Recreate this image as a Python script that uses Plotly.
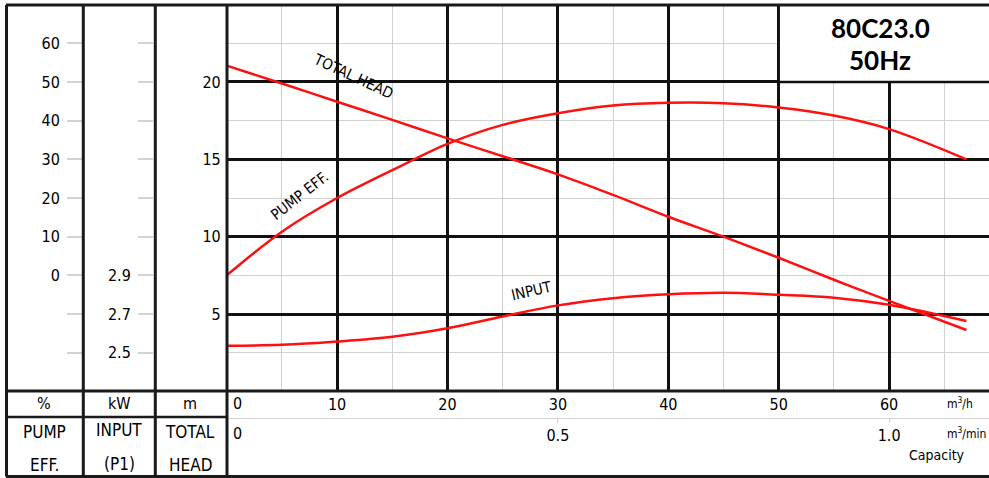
import plotly.graph_objects as go

# pump curve 80C23.0 @ 50Hz
flow_m3h = [0, 5, 10, 15, 20, 25, 30, 35, 40, 45, 50, 55, 60, 67]
total_head_m = [21.05, 19.9, 18.72, 17.55, 16.35, 15.2, 14.03, 12.7, 11.29, 10.0, 8.64, 7.22, 5.85, 3.97]
pump_eff_pct = [0, 11.3, 20.0, 27.2, 34.0, 38.9, 41.9, 43.9, 44.6, 44.5, 43.4, 41.3, 37.8, 30.0]
input_kw = [2.537, 2.541, 2.558, 2.583, 2.627, 2.688, 2.745, 2.782, 2.802, 2.81, 2.80, 2.785, 2.748, 2.664]

head_ticks = [5, 10, 15, 20]
eff_ticks = [-20, -10, 0, 10, 20, 30, 40, 50, 60]
kw_ticks = [2.5, 2.7, 2.9, 3.1, 3.3, 3.5, 3.7, 3.9, 4.1]
kw_labels = ["2.5", "2.7", "2.9"]
flow_ticks = [10, 20, 30, 40, 50, 60]
flow_min_ticks = [0.5, 1.0]

W, H = 989, 478
NARROW = "Liberation Sans Narrow, Arial Narrow, DejaVu Sans Condensed, sans-serif"
RED = "#ff1010"
GRID = "#d2d2d2"


def fx(p):
    return p / W


def fy(p):
    return 1 - p / H


# plot box in pixels
X0, Y_TOP, Y_BOT = 226.7, 4.5, 391.5
X_MAX = (W - X0) / 11.04
dom_x = [fx(X0), 1]
dom_y = [fy(Y_BOT), fy(Y_TOP)]

fig = go.Figure()
fig.add_trace(go.Scatter(x=flow_m3h, y=total_head_m, mode="lines", yaxis="y",
                         line=dict(color=RED, width=2.5, shape="spline"), name="TOTAL HEAD"))
fig.add_trace(go.Scatter(x=flow_m3h, y=pump_eff_pct, mode="lines", yaxis="y2",
                         line=dict(color=RED, width=2.5, shape="spline"), name="PUMP EFF."))
fig.add_trace(go.Scatter(x=flow_m3h, y=input_kw, mode="lines", yaxis="y3",
                         line=dict(color=RED, width=2.5, shape="spline"), name="INPUT"))
# same capacity in m3/min, only there so the second x scale gets drawn
fig.add_trace(go.Scatter(x=[f / 60 for f in flow_m3h], y=total_head_m, mode="lines",
                         xaxis="x2", yaxis="y", line=dict(width=0, color="rgba(0,0,0,0)"),
                         hoverinfo="skip"))

num_font = dict(family=NARROW, size=16, color="black")

fig.update_layout(
    width=W, height=H,
    margin=dict(l=0, r=0, t=0, b=0),
    paper_bgcolor="white", plot_bgcolor="white",
    showlegend=False,
    xaxis=dict(domain=dom_x, range=[0, X_MAX], tickvals=flow_ticks,
               ticktext=[str(v) for v in flow_ticks], ticks="", tickfont=num_font,
               showgrid=True, gridcolor="#111", gridwidth=2.5, zeroline=False,
               showline=False, ticklabelstandoff=1,
               minor=dict(tickvals=[5, 15, 25, 35, 45, 55, 65], showgrid=True,
                          gridcolor=GRID, gridwidth=1.2)),
    xaxis2=dict(overlaying="x", anchor="free", position=fy(417.5), side="bottom",
                range=[0, X_MAX / 60], tickvals=flow_min_ticks, ticktext=["0.5", "1.0"],
                ticks="outside", ticklen=4, tickcolor=GRID, tickwidth=1.2,
                showline=True, linecolor=GRID, linewidth=1.2, showgrid=False,
                zeroline=False, tickfont=num_font, ticklabelstandoff=-1),
    yaxis=dict(domain=dom_y, range=[0, 25], tickvals=head_ticks, ticks="",
               tickfont=num_font, showgrid=True, gridcolor="#111", gridwidth=2.5,
               zeroline=False, showline=False, ticklabelstandoff=5,
               minor=dict(tickvals=[2.5, 7.5, 12.5, 17.5, 22.5], showgrid=True,
                          gridcolor=GRID, gridwidth=1.2)),
    yaxis2=dict(overlaying="y", anchor="free", position=fx(82), side="left",
                range=[-30, 70], tickvals=eff_ticks,
                ticktext=["" if v < 0 else str(v) for v in eff_ticks],
                ticks="outside", ticklen=15, tickcolor=GRID, tickwidth=1.5,
                showgrid=False, zeroline=False, showline=False, tickfont=num_font,
                ticklabelstandoff=4),
    yaxis3=dict(overlaying="y", anchor="free", position=fx(153), side="left",
                range=[2.3, 4.3], tickvals=kw_ticks,
                ticktext=kw_labels + [""] * (len(kw_ticks) - len(kw_labels)),
                ticks="outside", ticklen=15, tickcolor=GRID, tickwidth=1.5,
                showgrid=False, zeroline=False, showline=False, tickfont=num_font,
                ticklabelstandoff=4),
)

shapes = []
# blank title box in the top right corner
shapes.append(dict(type="rect", xref="x", yref="y", x0=50, x1=X_MAX, y0=20, y1=25,
                   fillcolor="white", line=dict(width=0), layer="above"))
shapes.append(dict(type="line", xref="x", yref="y", x0=50, x1=50, y0=20, y1=25,
                   line=dict(color="#111", width=2.5), layer="above"))
shapes.append(dict(type="line", xref="x", yref="y", x0=50, x1=X_MAX, y0=20, y1=20,
                   line=dict(color="#111", width=2.5), layer="above"))

# table frame
frame = dict(color="#1a1a1a", width=3)
shapes.append(dict(type="line", xref="paper", yref="paper", x0=fx(6), x1=1, y0=fy(5), y1=fy(5), line=frame))
shapes.append(dict(type="line", xref="paper", yref="paper", x0=fx(6), x1=1, y0=fy(476.5), y1=fy(476.5), line=frame))
shapes.append(dict(type="line", xref="paper", yref="paper", x0=fx(6), x1=1, y0=fy(391), y1=fy(391), line=frame))
for xp in [6.5, 83.3, 155.3, 227]:
    shapes.append(dict(type="line", xref="paper", yref="paper", x0=fx(xp), x1=fx(xp),
                       y0=fy(5), y1=fy(476.5), line=frame))
shapes.append(dict(type="line", xref="paper", yref="paper", x0=fx(6), x1=fx(227),
                   y0=fy(417), y1=fy(417), line=dict(color="#1a1a1a", width=2.5)))
for s in shapes[3:]:
    s["layer"] = "above"
fig.update_layout(shapes=shapes)

ann = []


def text(x, y, s, size=16, xanchor="center", family=NARROW, **kw):
    ann.append(dict(x=fx(x), y=fy(y), xref="paper", yref="paper", text=s, showarrow=False,
                    xanchor=xanchor, yanchor="middle",
                    font=dict(family=family, size=size, color="black"), **kw))


text(880, 28, "<b>80C23.0</b>", size=26, family="Lato, Open Sans, sans-serif")
text(880, 60, "<b>50Hz</b>", size=26, family="Lato, Open Sans, sans-serif")

text(44, 403, "%", size=16)
text(119, 403, "kW", size=16)
text(190, 403, "m", size=16)
text(44, 432, "PUMP", size=17)
text(44, 465, "EFF.", size=17)
text(119, 430, "INPUT", size=17)
text(119, 464, "(P1)", size=17)
text(190, 432, "TOTAL", size=17)
text(190, 465, "HEAD", size=17)

text(231, 403, "0", size=16, xanchor="left")
text(231, 433, "0", size=16, xanchor="left")
text(960, 403, "m<sup>3</sup>/h", size=12)
text(966, 433, "m<sup>3</sup>/min", size=12)
text(937, 455, "Capacity", size=14)

# curve labels, placed on the head scale
for lx, ly, s, ang in [(11.4, 20.35, "TOTAL HEAD", 25), (6.6, 12.6, "PUMP EFF.", -38),
                       (27.6, 6.5, "INPUT", -13)]:
    ann.append(dict(x=lx, y=ly, xref="x", yref="y", text=s, showarrow=False,
                    textangle=ang, font=dict(family=NARROW, size=15, color="black")))

fig.update_layout(annotations=ann)

# page body has a default margin; drop it so the figure sits at 0,0
fig.write_html("out.html", config={"displayModeBar": False},
               post_script="document.body.style.margin='0';")
